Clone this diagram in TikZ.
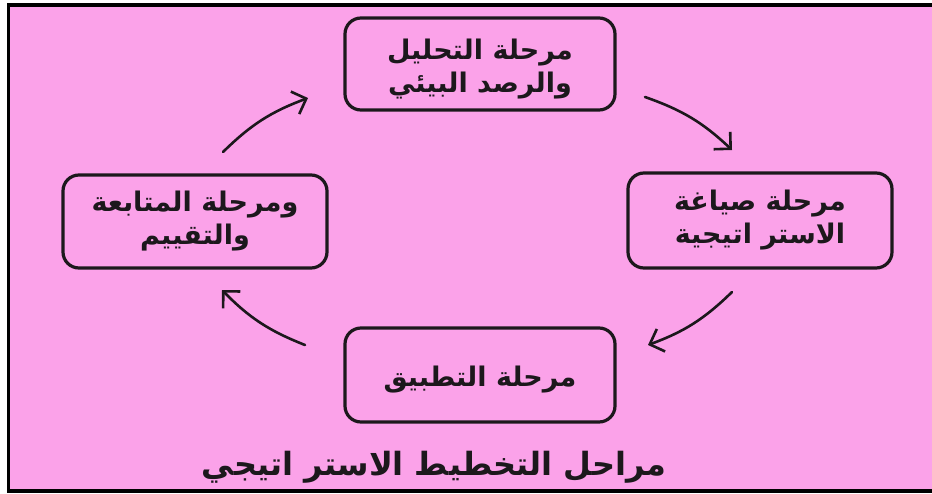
\documentclass[tikz,border=0pt]{standalone}
\usepackage{fontspec}
\usetikzlibrary{arrows.meta}
\TeXXeTstate=1
\newfontfamily\arabicfont[Script=Arabic]{DejaVu Sans}
\definecolor{panelpink}{RGB}{251,162,233}
\definecolor{inkdark}{RGB}{28,24,28}
% lower a line of text without changing its box
\newcommand{\droptext}[1]{\raisebox{-5pt}[\height][\depth]{#1}}
\begin{document}
\begin{tikzpicture}[x=1pt,y=1pt,
  stagebox/.style={draw=inkdark, line width=3.2pt, rounded corners=16pt,
    inner sep=0pt, align=center, text=inkdark,
    font=\arabicfont\bfseries\fontsize{27}{33}\selectfont},
  flow/.style={draw=inkdark, line width=2.6pt, line cap=round,
    -{Straight Barb[length=12pt,width=24pt,line width=2.6pt]}, bend left=12},
  titletext/.style={text=inkdark, font=\arabicfont\bfseries\fontsize{32}{36}\selectfont}]

% page and panel
\useasboundingbox (0,0) rectangle (932,-493);
\fill[white] (0,0) rectangle (932,-493);
\draw[fill=panelpink, draw=black, line width=3.5pt] (8.5,-5) rectangle (940,-491);

% the four stages
\node[stagebox, minimum width=270pt, minimum height=92pt] (analysis) at (480,-64)
  {\droptext{\beginR مرحلة التحليل\endR}\\\droptext{\beginR والرصد البيئي\endR}};
\node[stagebox, minimum width=264pt, minimum height=95pt] (formulate) at (760,-220.5)
  {\beginR مرحلة صياغة\endR\\\beginR الاستر اتيجية\endR};
\node[stagebox, minimum width=270pt, minimum height=94pt] (implement) at (480,-375)
  {\droptext{\beginR مرحلة التطبيق\endR}};
\node[stagebox, minimum width=264pt, minimum height=93pt] (review) at (195,-221.5)
  {\beginR ومرحلة المتابعة\endR\\\beginR والتقييم\endR};

% title
\node[titletext] (title) at (434,-467) {\beginR مراحل التخطيط الاستر اتيجي\endR};

% arrow ends
\coordinate (a1s) at (223,-152);
\coordinate (a1e) at (308,-98);
\coordinate (a2s) at (645,-97);
\coordinate (a2e) at (732,-150);
\coordinate (a3s) at (732,-292);
\coordinate (a3e) at (648,-345);
\coordinate (a4s) at (305,-345);
\coordinate (a4e) at (222,-290);

% clockwise cycle
\draw[flow] (a1s) to (a1e);
\draw[flow] (a2s) to (a2e);
\draw[flow] (a3s) to (a3e);
\draw[flow] (a4s) to (a4e);
\end{tikzpicture}
\end{document}
